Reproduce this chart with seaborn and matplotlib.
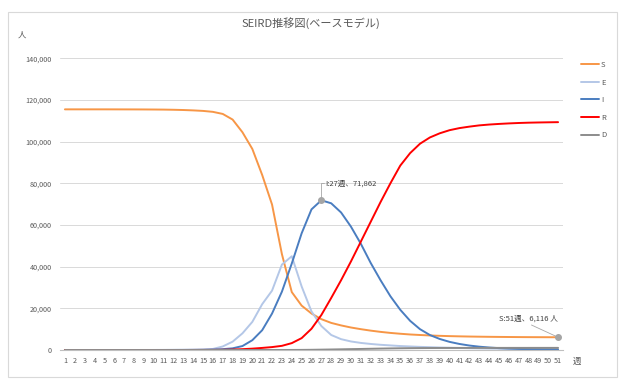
import matplotlib.pyplot as plt
import numpy as np
import pandas as pd
import seaborn as sns
from matplotlib.lines import Line2D
from matplotlib.patches import Rectangle


weeks = list(range(1, 52))
S = [115500, 115500, 115500, 115500, 115500, 115490, 115480, 115470, 115450, 115420,
     115380, 115300, 115180, 115000, 114750, 114300, 113300, 110600, 104500, 96500,
     84000, 69800, 46000, 27800, 21300, 17500, 14800, 13000, 11800, 10800,
     10000, 9300, 8700, 8200, 7800, 7450, 7200, 6980, 6800, 6660,
     6550, 6460, 6390, 6330, 6280, 6240, 6200, 6170, 6150, 6130, 6116]
E = [0, 0, 0, 0, 0, 0, 0, 10, 15, 20,
     30, 50, 70, 110, 200, 500, 1700, 4000, 8000, 13500,
     22000, 28500, 41000, 45000, 30500, 18500, 11500, 7200, 5200, 4100,
     3400, 2900, 2500, 2200, 1900, 1700, 1500, 1350, 1200, 1080,
     970, 870, 780, 700, 630, 570, 510, 460, 420, 380, 340]
I = [0, 0, 0, 0, 0, 0, 0, 5, 8, 12,
     18, 28, 45, 70, 110, 200, 400, 800, 1900, 4700,
     9500, 17500, 28000, 41500, 56000, 67500, 71862, 70400, 66000, 59200,
     51000, 41800, 33500, 25800, 19300, 14000, 10000, 7200, 5300, 3900,
     2900, 2150, 1600, 1200, 900, 680, 510, 390, 300, 230, 180]
R = [0, 0, 0, 0, 0, 0, 0, 0, 2, 4,
     6, 9, 14, 22, 35, 50, 100, 200, 400, 650,
     1000, 1400, 2000, 3300, 5700, 10200, 16800, 25000, 33500, 42500,
     52000, 61500, 71000, 80000, 88500, 94500, 99000, 102000, 104000, 105500,
     106500, 107200, 107800, 108200, 108500, 108750, 108950, 109100, 109200, 109280, 109350]
D = [0, 0, 0, 0, 0, 0, 0, 0, 0, 0,
     0, 0, 0, 0, 0, 0, 1, 2, 4, 7,
     10, 14, 20, 33, 57, 100, 170, 250, 330, 420,
     500, 590, 680, 760, 830, 880, 920, 950, 970, 985,
     995, 1000, 1005, 1010, 1012, 1014, 1016, 1018, 1020, 1021, 1022]

series = ["S", "E", "I", "R", "D"]
colors = ["#F79646", "#B4C7E7", "#4A7DC0", "#FF0000", "#8C8C8C"]

sns.set_theme(style="white")
plt.rcParams["font.family"] = ["Noto Sans CJK JP", "DejaVu Sans"]

df = pd.DataFrame({
    "week": weeks * 5,
    "value": S + E + I + R + D,
    "series": np.repeat(series, len(weeks)),
})

fig = plt.figure(figsize=(6.22, 3.81), dpi=100)
fig.patches.append(Rectangle((8 / 622, 4 / 381), 609 / 622, 365 / 381,
                             transform=fig.transFigure, fill=False,
                             edgecolor="#D9D9D9", lw=0.8))
ax = fig.add_axes([60 / 622, 31 / 381, 503 / 622, 291.7 / 381])

sns.lineplot(data=df, x="week", y="value", hue="series", hue_order=series,
             palette=colors, linewidth=1.4, legend=False, ax=ax)

ax.set_xlim(0.5, 51.5)
ax.set_ylim(0, 140000)
ax.set_yticks(range(0, 140001, 20000))
ax.set_yticklabels([f"{v:,}" for v in range(0, 140001, 20000)])
ax.set_xticks(weeks)
ax.set_xticklabels([str(w) for w in weeks])
ax.tick_params(axis="both", length=0, labelsize=5.2, colors="#595959")
ax.tick_params(axis="x", pad=5)
ax.tick_params(axis="y", pad=6)
ax.grid(axis="y", color="#D9D9D9", lw=0.7)
ax.set_axisbelow(True)
for side in ["left", "right", "top"]:
    ax.spines[side].set_visible(False)
ax.spines["bottom"].set_color("#BFBFBF")
ax.spines["bottom"].set_linewidth(0.8)
ax.set_xlabel("")
ax.set_ylabel("")

# data labels
ax.plot([27], [71862], "o", color="#A5A5A5", ms=4, zorder=5)
ax.plot([27, 27, 27.3], [71862, 80000, 80000], color="#A6A6A6", lw=0.6)
ax.text(27.35, 80000, "I:27週、71,862", fontsize=5.5, color="#404040", va="center", ha="left")
ax.plot([51], [6116], "o", color="#A5A5A5", ms=4, zorder=5)
ax.plot([48.3, 51], [12000, 6116], color="#A6A6A6", lw=0.6)
ax.text(51, 15200, "S:51週、6,116 人", fontsize=5.5, color="#404040", va="center", ha="right")

fig.text(311 / 622, 1 - 23 / 381, "SEIRD推移図(ベースモデル)", ha="center", va="center",
         fontsize=8, color="#595959")
fig.text(22 / 622, 1 - 35 / 381, "人", ha="center", va="center", fontsize=6, color="#595959")
fig.text(577 / 622, 1 - 361 / 381, "週", ha="center", va="center", fontsize=6, color="#595959")

handles = [Line2D([], [], color=c, lw=1.4) for c in colors]
fig.legend(handles, series, loc="upper left", bbox_to_anchor=(578 / 622, 1 - 58 / 381),
           frameon=False, fontsize=5.5, handlelength=2.3, handletextpad=0.3,
           labelspacing=1.25, labelcolor="#595959", borderaxespad=0)

fig.savefig("out.png", dpi=100)
